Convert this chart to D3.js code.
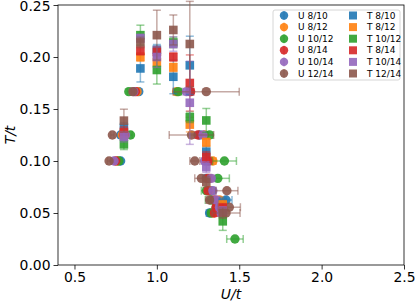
<!DOCTYPE html>
<html>
<head>
<meta charset="utf-8">
<script src="https://cdn.jsdelivr.net/npm/d3@7"></script>
<style>
  body { margin: 0; background: #fff; }
  svg { display: block; }
  text { font-family: "DejaVu Sans", sans-serif; fill: #000; }
</style>
</head>
<body>
<div id="chart"></div>
<script>
'use strict';

var seriesNames = ['8/10', '8/12', '10/12', '8/14', '10/14', '12/14'];
var seriesColors = ['#1f77b4', '#ff7f0e', '#2ca02c', '#d62728', '#9467bd', '#8c564b'];

// circles: U/t estimated at fixed T/t rows
var tRows = [1/6, 1/6, 1/8, 1/8, 1/10, 1/10, 1/12, 1/14, 1/16, 1/18, 1/20];
var circleU = [
    [0.89, 1.20, 0.78, 1.26, 0.78, 1.32, 1.30, 1.33, 1.42, 1.38, 1.32],
    [0.88, 1.12, 0.79, 1.29, 0.76, 1.34, 1.32, 1.32, 1.38, 1.37, 1.34],
    [0.83, 1.13, 0.84, 1.32, 0.77, 1.41, 1.37, 1.30, 1.33, 1.36, 1.33],
    [0.87, 1.205, 0.80, 1.25, 0.75, 1.31, 1.31, 1.31, 1.35, 1.36, 1.35],
    [0.86, 1.18, 0.81, 1.28, 0.74, 1.29, 1.33, 1.34, 1.36, 1.38, 1.39],
    [0.855, 1.30, 0.73, 1.21, 0.71, 1.23, 1.27, 1.425, 1.32, 1.44, 1.42]
];
var circleErr = [
    [0.01, 0.02, 0.01, 0.02, 0.01, 0.02, 0.02, 0.02, 0.036, 0.02, 0.02],
    [0.01, 0.02, 0.01, 0.02, 0.01, 0.02, 0.02, 0.02, 0.02, 0.02, 0.02],
    [0.01, 0.02, 0.01, 0.02, 0.01, 0.073, 0.07, 0.03, 0.036, 0.02, 0.02],
    [0.01, 0.02, 0.01, 0.02, 0.01, 0.02, 0.02, 0.02, 0.02, 0.02, 0.02],
    [0.01, 0.02, 0.01, 0.02, 0.01, 0.02, 0.02, 0.02, 0.02, 0.02, 0.02],
    [0.01, 0.20, 0.01, 0.135, 0.01, 0.03, 0.04, 0.067, 0.02, 0.067, 0.085]
];
// extra low temperature point of the 10/12 series
var extraT = [1/40];
var extraU = [1.474];
var extraErr = [0.05];

// squares: T/t estimated at fixed U/t columns
var uCols = [0.8, 0.9, 1.0, 1.1, 1.2, 1.3, 1.4];
var squareT = [
    [0.132, 0.189, 0.207, 0.181, 0.192, 0.109, 0.060],
    [0.126, 0.200, 0.195, 0.190, 0.135, 0.118, 0.058],
    [0.116, 0.221, 0.1875, 0.214, 0.142, 0.139, 0.042],
    [0.128, 0.206, 0.205, 0.200, 0.175, 0.104, 0.055],
    [0.1234, 0.218, 0.200, 0.2125, 0.156, 0.094, 0.052],
    [0.1388, 0.214, 0.221, 0.226, 0.2125, 0.080, 0.050]
];
var squareErr = [
    [0.005, 0.013, 0.005, 0.0163, 0.028, 0.005, 0.005],
    [0.005, 0.004, 0.005, 0.004, 0.007, 0.004, 0.004],
    [0.005, 0.0096, 0.0135, 0.005, 0.005, 0.0115, 0.0087],
    [0.005, 0.004, 0.005, 0.004, 0.027, 0.005, 0.004],
    [0.005, 0.004, 0.01, 0.007, 0.04, 0.005, 0.004],
    [0.011, 0.005, 0.024, 0.0144, 0.041, 0.005, 0.005]
];

var xTicks = [0.5, 1.0, 1.5, 2.0, 2.5];
var yTicks = [0.00, 0.05, 0.10, 0.15, 0.20, 0.25];

var settings = {width: 415, height: 302, left: 58, right: 404, top: 5, bottom: 265};

var svg = d3.select('#chart').append('svg')
    .attr('width', settings.width)
    .attr('height', settings.height);

var x = d3.scaleLinear().domain([0.4, 2.5]).range([settings.left, settings.right]);
var y = d3.scaleLinear().domain([0, 0.25]).range([settings.bottom, settings.top]);

// axes
var xAxis = svg.append('g')
    .attr('transform', 'translate(0,' + settings.bottom + ')')
    .call(d3.axisBottom(x).tickValues(xTicks).tickFormat(d3.format('.1f')).tickSizeOuter(0).tickSize(4.5).tickPadding(3));
var yAxis = svg.append('g')
    .attr('transform', 'translate(' + settings.left + ',0)')
    .call(d3.axisLeft(y).tickValues(yTicks).tickFormat(d3.format('.2f')).tickSizeOuter(0).tickSize(4.5).tickPadding(3));
[xAxis, yAxis].forEach(function(g) {
    g.select('.domain').remove();
    g.selectAll('.tick line').attr('stroke', '#000').attr('stroke-width', 0.8);
    g.selectAll('.tick text').style('font-size', '13.9px').attr('fill', '#000');
});
// keep the top tick label inside the picture
yAxis.selectAll('.tick text').filter(function(d) { return d === 0.25; }).attr('dy', '0.42em');

svg.append('rect')
    .attr('x', settings.left).attr('y', settings.top)
    .attr('width', settings.right - settings.left)
    .attr('height', settings.bottom - settings.top)
    .attr('fill', 'none').attr('stroke', '#000').attr('stroke-width', 0.8);

svg.append('text')
    .attr('x', (settings.left + settings.right) / 2).attr('y', 299)
    .attr('text-anchor', 'middle').style('font-size', '13.9px').style('font-style', 'italic')
    .text('U/t');
svg.append('text')
    .attr('transform', 'translate(15,' + (settings.top + settings.bottom) / 2 + ') rotate(-90)')
    .attr('text-anchor', 'middle').style('font-size', '13.9px').style('font-style', 'italic')
    .text('T/t');

var plot = svg.append('g');
var cap = 4;

var drawHErr = function(g, d, color) {
    var x1 = x(d.u - d.e), x2 = x(d.u + d.e), yy = y(d.t);
    var e = g.append('g').attr('stroke', color).attr('stroke-width', 1.5).attr('stroke-opacity', 0.5);
    e.append('line').attr('x1', x1).attr('x2', x2).attr('y1', yy).attr('y2', yy);
    e.append('line').attr('x1', x1).attr('x2', x1).attr('y1', yy - cap).attr('y2', yy + cap);
    e.append('line').attr('x1', x2).attr('x2', x2).attr('y1', yy - cap).attr('y2', yy + cap);
};
var drawVErr = function(g, d, color) {
    var y1 = y(d.t - d.e), y2 = y(d.t + d.e), xx = x(d.u);
    var e = g.append('g').attr('stroke', color).attr('stroke-width', 1.5).attr('stroke-opacity', 0.5);
    e.append('line').attr('x1', xx).attr('x2', xx).attr('y1', y1).attr('y2', y2);
    e.append('line').attr('x1', xx - cap).attr('x2', xx + cap).attr('y1', y1).attr('y2', y1);
    e.append('line').attr('x1', xx - cap).attr('x2', xx + cap).attr('y1', y2).attr('y2', y2);
};

var circleSym = d3.symbol().type(d3.symbolCircle).size(Math.PI * 4.7 * 4.7);
var squareSym = d3.symbol().type(d3.symbolSquare).size(8.6 * 8.6);
var legendCircle = d3.symbol().type(d3.symbolCircle).size(Math.PI * 4.2 * 4.2);
var legendSquare = d3.symbol().type(d3.symbolSquare).size(8 * 8);

// U series (circles)
seriesNames.forEach(function(name, i) {
    var pts = tRows.map(function(t, j) {
        return {t: t, u: circleU[i][j], e: circleErr[i][j]};
    });
    if (name === '10/12') {
        extraT.forEach(function(t, j) { pts.push({t: t, u: extraU[j], e: extraErr[j]}); });
    }
    var g = plot.append('g').attr('class', 'u-series');
    pts.forEach(function(d) { drawHErr(g, d, seriesColors[i]); });
    g.selectAll('.pt').data(pts).enter().append('path')
        .attr('class', 'pt')
        .attr('d', circleSym)
        .attr('transform', function(d) { return 'translate(' + x(d.u) + ',' + y(d.t) + ')'; })
        .attr('fill', seriesColors[i]).attr('fill-opacity', 0.9);
});

// T series (squares)
seriesNames.forEach(function(name, i) {
    var pts = uCols.map(function(u, j) {
        return {u: u, t: squareT[i][j], e: squareErr[i][j]};
    });
    var g = plot.append('g').attr('class', 't-series');
    pts.forEach(function(d) { drawVErr(g, d, seriesColors[i]); });
    g.selectAll('.pt').data(pts).enter().append('path')
        .attr('class', 'pt')
        .attr('d', squareSym)
        .attr('transform', function(d) { return 'translate(' + x(d.u) + ',' + y(d.t) + ')'; })
        .attr('fill', seriesColors[i]).attr('fill-opacity', 0.9);
});

// legend
var legend = svg.append('g').attr('transform', 'translate(273,10)');
legend.append('rect')
    .attr('width', 127).attr('height', 70).attr('rx', 2)
    .attr('fill', '#fff').attr('fill-opacity', 0.8)
    .attr('stroke', '#ccc').attr('stroke-width', 0.8);
seriesNames.forEach(function(name, i) {
    var yy = 5.5 + i * 11.6;
    var row = legend.append('g');
    row.append('line').attr('x1', 11).attr('x2', 11).attr('y1', yy - 4.5).attr('y2', yy + 4.5)
        .attr('stroke', seriesColors[i]).attr('stroke-opacity', 0.5).attr('stroke-width', 1.5);
    row.append('path').attr('d', legendCircle)
        .attr('transform', 'translate(11,' + yy + ')')
        .attr('fill', seriesColors[i]).attr('fill-opacity', 0.9);
    row.append('text').attr('x', 25).attr('y', yy).attr('dy', '0.35em')
        .style('font-size', '9px').text('U ' + name);
    row.append('path').attr('d', legendSquare)
        .attr('transform', 'translate(80,' + yy + ')')
        .attr('fill', seriesColors[i]).attr('fill-opacity', 0.9);
    row.append('text').attr('x', 94).attr('y', yy).attr('dy', '0.35em')
        .style('font-size', '9px').text('T ' + name);
});
</script>
</body>
</html>
